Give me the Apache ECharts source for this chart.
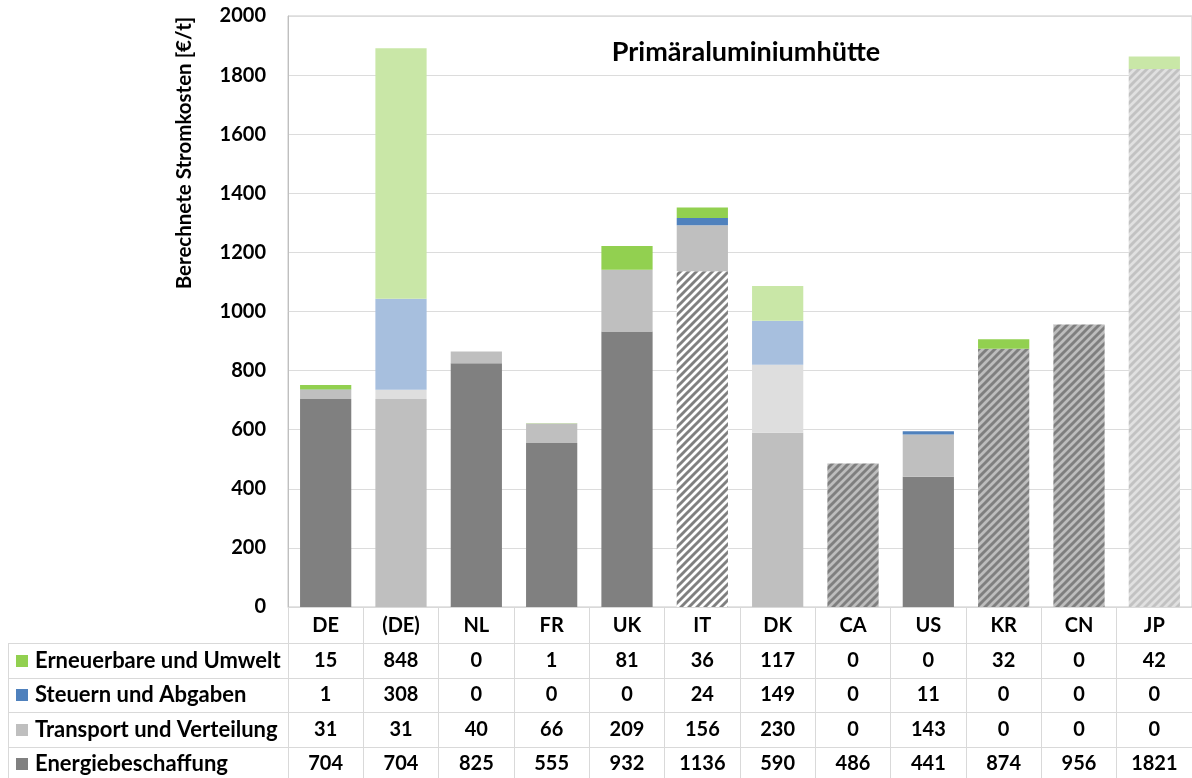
<!DOCTYPE html>
<html>
<head>
<meta charset="utf-8">
<script src="https://cdn.jsdelivr.net/npm/echarts@6/dist/echarts.min.js"></script>
<style>
  html, body { margin: 0; padding: 0; background: #fff; }
  #chart { width: 1192px; height: 778px; }
</style>
</head>
<body>
<div id="chart"></div>
<script>
// Countries along the x axis
const categories = ['DE', '(DE)', 'NL', 'FR', 'UK', 'IT', 'DK', 'CA', 'US', 'KR', 'CN', 'JP'];

// Cost components in €/t (stacked bottom to top)
const energiebeschaffung = [704, 704, 825, 555, 932, 1136, 590, 486, 441, 874, 956, 1821];
const transportVerteilung = [31, 31, 40, 66, 209, 156, 230, 0, 143, 0, 0, 0];
const steuernAbgaben = [1, 308, 0, 0, 0, 24, 149, 0, 11, 0, 0, 0];
const erneuerbareUmwelt = [15, 848, 0, 1, 81, 36, 117, 0, 0, 32, 0, 42];

// How each country's bar is painted
const barVariant = ['solid', 'light', 'solid', 'solid', 'solid', 'hatchWhite', 'light',
  'hatch', 'solid', 'hatch', 'hatch', 'hatchLight'];

const yTicks = { min: 0, max: 2000, interval: 200 };

const FONT = 'Lato';
const NUM = 20;   // numbers and country codes
const WORD = 22;  // row names of the table

function hatchPattern(bg, fg) {
  const s = 8;
  const c = document.createElement('canvas');
  c.width = s; c.height = s;
  const g = c.getContext('2d');
  g.fillStyle = bg; g.fillRect(0, 0, s, s);
  g.strokeStyle = fg; g.lineWidth = 2.9; g.lineCap = 'square';
  g.beginPath();
  g.moveTo(-1, s + 1); g.lineTo(s + 1, -1);
  g.moveTo(-s / 2 - 1, s / 2 + 1); g.lineTo(s / 2 + 1, -s / 2 - 1);
  g.moveTo(s / 2 - 1, s * 1.5 + 1); g.lineTo(s * 1.5 + 1, s / 2 - 1);
  g.stroke();
  return { image: c, repeat: 'repeat' };
}

const C = {
  energie: '#808080', transport: '#bfbfbf', steuern: '#4f81bd', erneuerbar: '#92d050',
  energieLight: '#bfbfbf', transportLight: '#dedede', steuernLight: '#a7bfde', erneuerbarLight: '#c9e7a7'
};
const patterns = {
  hatchWhite: hatchPattern('#ffffff', '#808080'),
  hatch: hatchPattern('#bdbdbd', '#7f7f7f'),
  hatchLight: hatchPattern('#e0e0e0', '#c2c2c2')
};

function energieColor(v) {
  if (v === 'solid') return C.energie;
  if (v === 'light') return C.energieLight;
  return patterns[v];
}
function transportColor(v) { return v === 'light' ? C.transportLight : C.transport; }
function steuernColor(v) { return v === 'light' ? C.steuernLight : C.steuern; }
function erneuerbarColor(v) { return (v === 'light' || v === 'hatchLight') ? C.erneuerbarLight : C.erneuerbar; }

function items(values, colorFn) {
  return values.map((val, i) => ({ value: val, itemStyle: { color: colorFn(barVariant[i]) } }));
}

// Table geometry below the plot
const plotBottom = 607;
const headerCenter = 626;
const rowCenters = [661, 695, 730, 764];
const rowLines = [643.5, 678.5, 712.5, 747.5];

const seriesDefs = [
  { name: 'Energiebeschaffung', data: energiebeschaffung, base: C.energie, colorFn: energieColor },
  { name: 'Transport und Verteilung', data: transportVerteilung, base: C.transport, colorFn: transportColor },
  { name: 'Steuern und Abgaben', data: steuernAbgaben, base: C.steuern, colorFn: steuernColor },
  { name: 'Erneuerbare und Umwelt', data: erneuerbareUmwelt, base: C.erneuerbar, colorFn: erneuerbarColor }
];

// Rows of the data table, top to bottom
const tableRows = [seriesDefs[3], seriesDefs[2], seriesDefs[1], seriesDefs[0]];

const numStyle = { fontFamily: FONT, fontWeight: 'bold', fontSize: NUM, color: '#000' };
const wordStyle = { fontFamily: FONT, fontWeight: 'bold', fontSize: WORD, color: '#000' };

const xAxes = [{
  type: 'category', data: categories, gridIndex: 0, position: 'bottom',
  axisLine: { show: true, lineStyle: { color: '#d9d9d9', width: 1 } },
  axisTick: { show: true, interval: 0, length: 778 - plotBottom, lineStyle: { color: '#d9d9d9' } },
  axisLabel: Object.assign({ interval: 0, margin: headerCenter - plotBottom, verticalAlign: 'middle' }, numStyle)
}];
tableRows.forEach((row, r) => {
  xAxes.push({
    type: 'category', data: categories, gridIndex: 0, position: 'bottom',
    axisLine: { show: false }, axisTick: { show: false },
    axisLabel: Object.assign({
      interval: 0, margin: rowCenters[r] - plotBottom, verticalAlign: 'middle',
      formatter: (v, i) => String(row.data[i])
    }, numStyle)
  });
});

const legends = tableRows.map((row, r) => ({
  left: 11, top: rowCenters[r] - 16,
  orient: 'horizontal', selectedMode: false,
  itemWidth: 12, itemHeight: 12, icon: 'rect',
  data: [row.name],
  textStyle: Object.assign({ padding: [0, 0, 0, 2], lineHeight: 22 }, wordStyle)
}));

const graphics = [
  { type: 'text', x: 746, y: 52,
    style: { text: 'Primäraluminiumhütte', font: 'bold 27px ' + FONT, fill: '#000', align: 'center', verticalAlign: 'middle' } },
  { type: 'text', x: 184, y: 153, rotation: Math.PI / 2,
    style: { text: 'Berechnete Stromkosten [€/t]', font: 'bold 20.5px ' + FONT, fill: '#000', align: 'center', verticalAlign: 'middle' } },
  { type: 'line', shape: { x1: 8.5, y1: rowLines[0], x2: 8.5, y2: 778 }, style: { stroke: '#d9d9d9', lineWidth: 1 } }
];
rowLines.forEach(y => {
  graphics.push({ type: 'line', shape: { x1: 8, y1: y, x2: 1192, y2: y }, style: { stroke: '#d9d9d9', lineWidth: 1 } });
});

const chart = echarts.init(document.getElementById('chart'), null, { renderer: 'canvas' });
chart.setOption({
  animation: false,
  backgroundColor: '#fff',
  grid: { left: 288, right: -1, top: 16, bottom: 778 - plotBottom, show: true, borderColor: '#c8c8c8', borderWidth: 1 },
  legend: legends,
  xAxis: xAxes,
  yAxis: {
    type: 'value', min: yTicks.min, max: yTicks.max, interval: yTicks.interval,
    axisLine: { show: true, lineStyle: { color: '#bfbfbf' } },
    axisTick: { show: false },
    splitLine: { lineStyle: { color: '#dcdcdc', width: 1 } },
    axisLabel: Object.assign({ margin: 22, formatter: v => String(v) }, numStyle)
  },
  graphic: graphics,
  series: seriesDefs.map(s => ({
    name: s.name, type: 'bar', stack: 'total', xAxisIndex: 0,
    barCategoryGap: '32%',
    itemStyle: { color: s.base },
    data: items(s.data, s.colorFn)
  }))
});
</script>
</body>
</html>
